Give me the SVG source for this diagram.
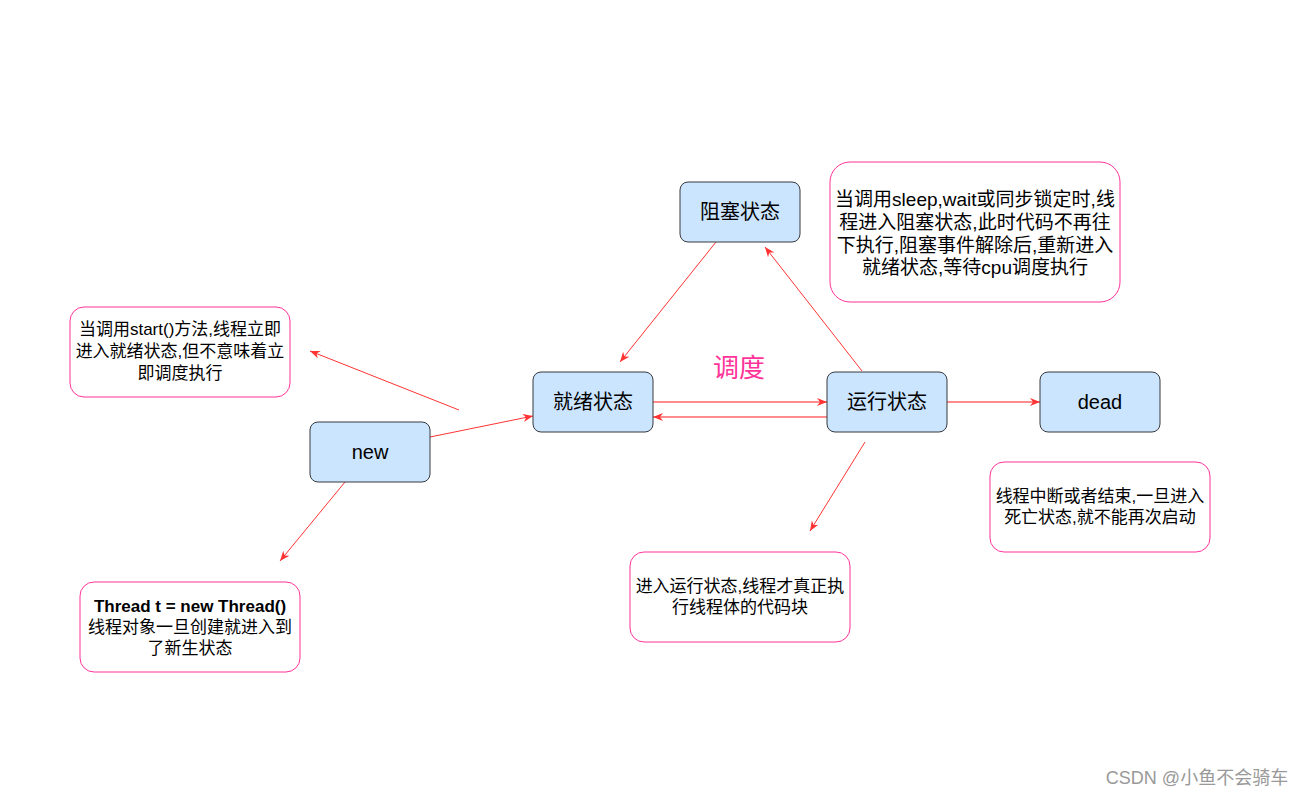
<svg xmlns="http://www.w3.org/2000/svg" width="1308" height="797" viewBox="0 0 1308 797">
<defs>
<style>
.node rect{fill:#cce5ff;stroke:#36393d;stroke-width:1}
.note rect{fill:#ffffff;stroke:#ff3399;stroke-width:1}
text{font-family:"Liberation Sans","Noto Sans CJK SC",sans-serif;fill:#000;text-anchor:middle}
.nl{font-size:20px}
.nt{font-size:17px}
.nb{font-size:19px}
.e{fill:none;stroke:#ff3333;stroke-width:1}
.h{fill:none;stroke:#ff6666;stroke-width:1.6}
</style>
<marker id="a" viewBox="0 0 10 8" refX="10" refY="4" markerWidth="10" markerHeight="8" markerUnits="userSpaceOnUse" orient="auto">
<path d="M0,0 L10,4 L0,8 L3,4 Z" fill="#ff3333"/>
</marker>
</defs>
<rect width="1308" height="797" fill="#ffffff"/>
<g id="connectors">
<line class="e" x1="430" y1="437" x2="533" y2="416" marker-end="url(#a)"/>
<line class="e" x1="459" y1="410" x2="310" y2="351" marker-end="url(#a)"/>
<line class="e" x1="345" y1="482" x2="280" y2="561" marker-end="url(#a)"/>
<line class="e" x1="716" y1="242" x2="620" y2="362" marker-end="url(#a)"/>
<line class="e" x1="862" y1="371" x2="765" y2="247" marker-end="url(#a)"/>
<line class="h" x1="653" y1="402" x2="827" y2="402" marker-end="url(#a)"/>
<line class="h" x1="827" y1="417" x2="653" y2="417" marker-end="url(#a)"/>
<line class="h" x1="947" y1="402" x2="1040" y2="402" marker-end="url(#a)"/>
<line class="e" x1="865" y1="442" x2="810" y2="531" marker-end="url(#a)"/>
</g>
<g id="n-blocked" class="node"><rect x="680" y="182" width="120" height="60" rx="8"/><text class="nl" x="740" y="219">阻塞状态</text></g>
<g id="n-ready" class="node"><rect x="533" y="372" width="120" height="60" rx="8"/><text class="nl" x="593" y="409">就绪状态</text></g>
<g id="n-running" class="node"><rect x="827" y="372" width="120" height="60" rx="8"/><text class="nl" x="887" y="409">运行状态</text></g>
<g id="n-dead" class="node"><rect x="1040" y="372" width="120" height="60" rx="8"/><text class="nl" x="1100" y="409">dead</text></g>
<g id="n-new" class="node"><rect x="310" y="422" width="120" height="60" rx="8"/><text class="nl" x="370" y="459">new</text></g>
<g id="note-start" class="note"><rect x="70" y="307" width="220" height="90" rx="14"/>
<text class="nt"><tspan x="180" y="335">当调用start()方法,线程立即</tspan><tspan x="180" y="357">进入就绪状态,但不意味着立</tspan><tspan x="180" y="379">即调度执行</tspan></text></g>
<g id="note-blocked" class="note"><rect x="830" y="162" width="290" height="140" rx="20"/>
<text class="nb"><tspan x="975" y="206">当调用sleep,wait或同步锁定时,线</tspan><tspan x="975" y="229">程进入阻塞状态,此时代码不再往</tspan><tspan x="975" y="252">下执行,阻塞事件解除后,重新进入</tspan><tspan x="975" y="274">就绪状态,等待cpu调度执行</tspan></text></g>
<g id="note-thread" class="note"><rect x="80" y="582" width="220" height="90" rx="14"/>
<text class="nt"><tspan x="190" y="612" font-weight="bold">Thread t = new Thread()</tspan><tspan x="190" y="633">线程对象一旦创建就进入到</tspan><tspan x="190" y="654">了新生状态</tspan></text></g>
<g id="note-running" class="note"><rect x="630" y="552" width="220" height="90" rx="14"/>
<text class="nt"><tspan x="740" y="592">进入运行状态,线程才真正执</tspan><tspan x="740" y="613">行线程体的代码块</tspan></text></g>
<g id="note-dead" class="note"><rect x="990" y="462" width="220" height="90" rx="14"/>
<text class="nt"><tspan x="1100" y="502">线程中断或者结束,一旦进入</tspan><tspan x="1100" y="523">死亡状态,就不能再次启动</tspan></text></g>
<text x="739" y="377" style="font-size:26px;fill:#ff3399">调度</text>
<text x="1197" y="784" style="font-size:18px;fill:#999999">CSDN @小鱼不会骑车</text>
</svg>
